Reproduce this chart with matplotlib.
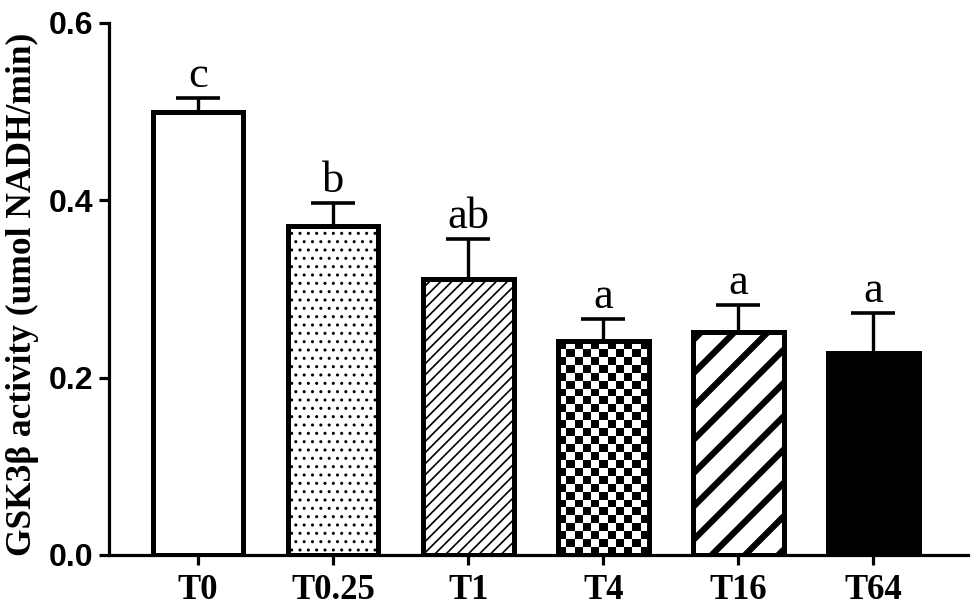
import matplotlib
matplotlib.use('Agg')
import matplotlib.pyplot as plt
from matplotlib import font_manager
import numpy as np

# values
groups = ['T0', 'T0.25', 'T1', 'T4', 'T16', 'T64']
means = [0.50, 0.371, 0.311, 0.241, 0.251, 0.228]
sds = [0.015, 0.026, 0.045, 0.025, 0.031, 0.045]
letters = ['c', 'b', 'ab', 'a', 'a', 'a']

hatches = [None, '..', '///', None, '/', None]
hatch_lw = [1.0, 1.0, 1.2, 1.0, 4.5, 1.0]
faces = ['white', 'white', 'white', 'white', 'white', 'black']

# pick the regular-width bold Liberation Sans file (not the Narrow one)
sans_bold = None
for f in font_manager.fontManager.ttflist:
    if f.name == 'Liberation Sans' and f.weight in (700, 'bold') and f.style == 'normal':
        sans_bold = f.fname
if sans_bold:
    tick_fp = font_manager.FontProperties(fname=sans_bold, size=23)
else:
    tick_fp = font_manager.FontProperties(family='DejaVu Sans', weight='bold', size=20)

fig = plt.figure(figsize=(9.75, 6.1), dpi=100)
ax = fig.add_axes([0.1118, 0.0902, 0.8810, 0.8721])

x = np.arange(len(groups))
width = 0.67

ax.errorbar(x, means, yerr=[np.zeros(len(sds)), sds], fmt='none', ecolor='black',
            elinewidth=2.4, capsize=16, capthick=2.6, zorder=1)

bars = []
for i in range(len(groups)):
    with plt.rc_context({'hatch.linewidth': hatch_lw[i], 'hatch.color': 'black'}):
        b = ax.bar(x[i], means[i], width=width, color=faces[i], edgecolor='black',
                   linewidth=0, hatch=hatches[i], zorder=2)[0]
        if hasattr(b, 'set_hatch_linewidth'):
            b.set_hatch_linewidth(hatch_lw[i])
    bars.append(b)

# checkerboard for T4
b = bars[3]
x0, y0 = b.get_x(), b.get_y()
w, h = b.get_width(), b.get_height()
nx = int(round(w / 0.06))
ny = int(round(h / 0.009))
checker = (np.add.outer(np.arange(ny), np.arange(nx)) % 2).astype(float)
im = ax.imshow(checker, cmap='gray', extent=[x0, x0 + w, y0, y0 + h], origin='lower',
               interpolation='nearest', aspect='auto', zorder=3)
im.set_clip_path(b)

# outlines on top
ax.bar(x, means, width=width, facecolor='none', edgecolor='black', linewidth=3.6, zorder=4)

for i in range(len(groups)):
    ax.annotate(letters[i], (x[i], means[i] + sds[i]), xytext=(0, 8), textcoords='offset points',
                ha='center', va='baseline', fontsize=32, family='Liberation Serif')

ax.set_xlim(-0.66, 5.70)
ax.set_ylim(0, 0.6)
ax.set_yticks([0.0, 0.2, 0.4, 0.6])
ax.set_yticklabels(['0.0', '0.2', '0.4', '0.6'], fontproperties=tick_fp)
ax.set_xticks(x)
ax.set_xticklabels(groups, fontsize=25, fontweight='bold', family='Liberation Serif')

for s in ['top', 'right']:
    ax.spines[s].set_visible(False)
for s in ['left', 'bottom']:
    ax.spines[s].set_linewidth(2.3)
ax.tick_params(axis='both', width=2.3, length=7.5, direction='out')
ax.tick_params(axis='y', pad=4)
ax.tick_params(axis='x', pad=6)

ax.set_ylabel('GSK3β activity (umol NADH/min)', fontsize=25.5, fontweight='bold',
              family='Liberation Serif')
ax.yaxis.set_label_coords(-0.082, 0.49)

fig.savefig('out.png', dpi=100)
